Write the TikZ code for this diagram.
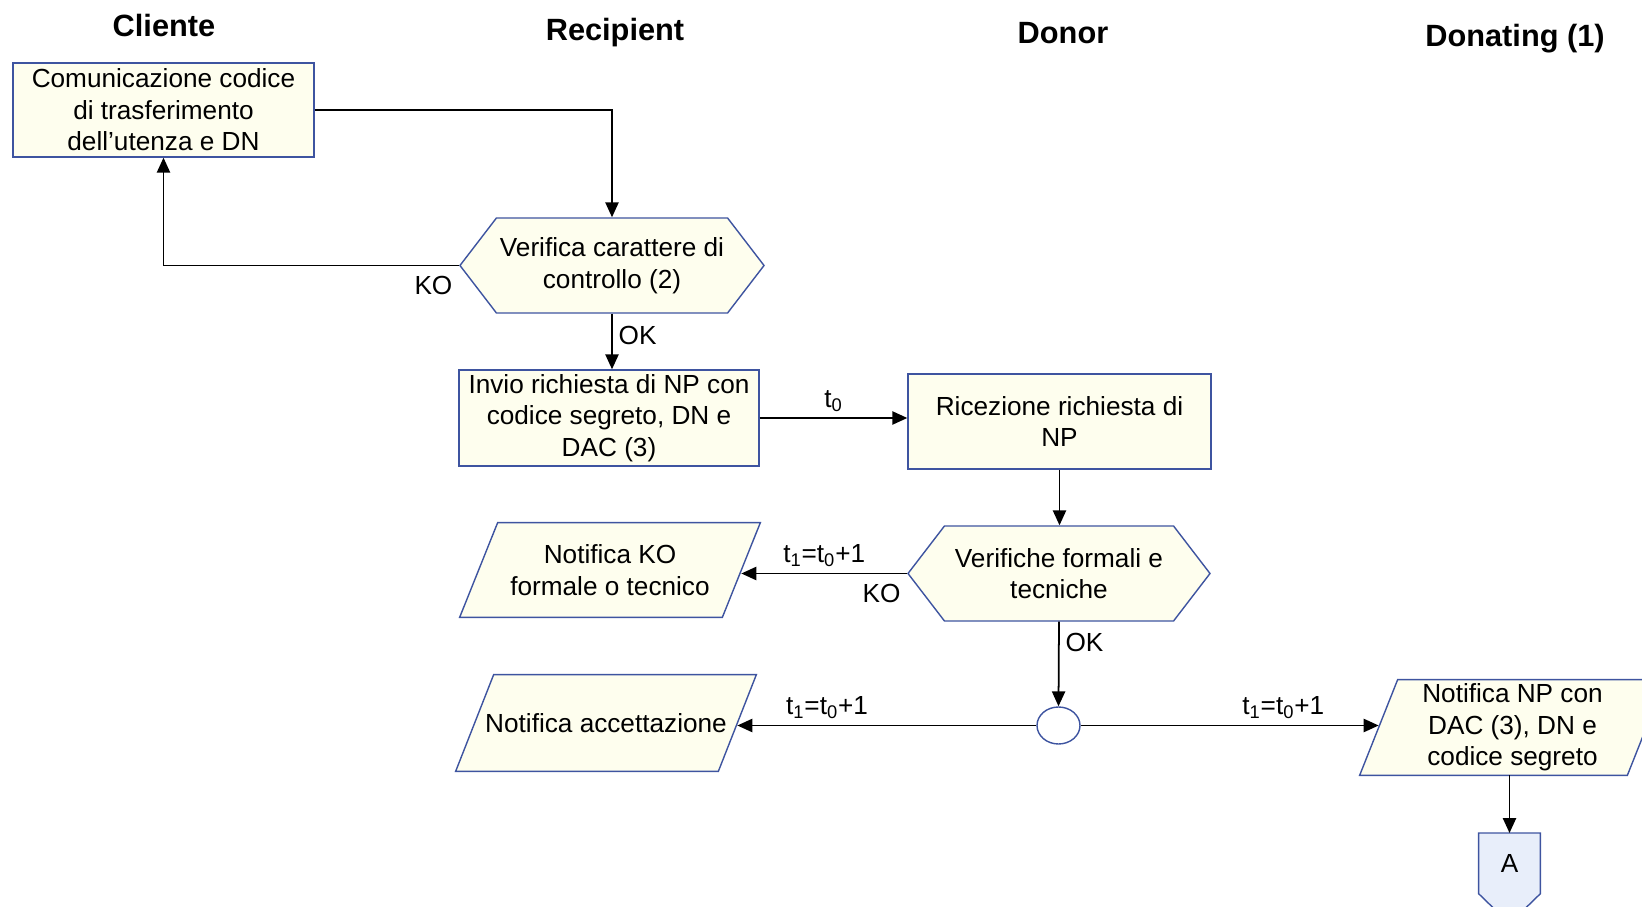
\documentclass[tikz,border=0pt]{standalone}
\usepackage{fontspec}
\setmainfont{Liberation Sans}
\usetikzlibrary{arrows.meta,positioning,backgrounds,shapes.geometric,shapes.symbols}
\definecolor{edgeblue}{RGB}{62,84,160}
\definecolor{boxfill}{RGB}{254,254,238}
\definecolor{pagefill}{RGB}{232,238,250}
\newcommand{\nf}{\fontsize{14.9pt}{18pt}\selectfont}
\newcommand{\hf}{\fontsize{17.5pt}{21pt}\selectfont\bfseries}
% parallelogramma dietro un nodo di testo
\newcommand{\ioshape}[1]{%
    \draw [frame] ([xshift=-3.8mm]#1.south west) -- ([xshift=-3.8mm]#1.south east)
        -- ([xshift=3.8mm]#1.north east) -- ([xshift=3.8mm]#1.north west) -- cycle;}

\begin{document}
\begin{tikzpicture}[>={Triangle[length=8.5pt,width=7.5pt]}]
    \tikzset{
        frame/.style={draw=edgeblue, fill=boxfill, line width=0.8pt},
        procbox/.style={frame, align=center, font=\nf, inner sep=2pt},
        decision/.style={procbox, signal, signal to=west and east, signal pointer angle=105},
        iobox/.style={align=center, font=\nf, inner sep=2pt},
        flow/.style={->, line width=1pt},
        lbl/.style={font=\nf}
    }
    \useasboundingbox (0,0) rectangle (32.84,18.12);

    % intestazioni
    \node [font=\hf, anchor=base] (hCli) at (3.28, 17.38) {Cliente};
    \node [font=\hf, anchor=base] (hRec) at (12.3, 17.3) {Recipient};
    \node [font=\hf, anchor=base] (hDon) at (21.26, 17.24) {Donor};
    \node [font=\hf, anchor=base] (hDng) at (30.3, 17.18) {Donating (1)};

    % cliente / recipient
    \node [procbox, minimum width=6.02cm, minimum height=1.88cm] (comunic) at (3.27, 15.92)
        {Comunicazione codice\\di trasferimento\\dell'utenza e DN};
    \node [decision, minimum width=6cm, minimum height=1.9cm] (verCar) at (12.24, 12.81)
        {Verifica carattere di\\controllo (2)};
    \node [procbox, minimum width=6cm, minimum height=1.92cm] (invio) at (12.18, 9.76)
        {Invio richiesta di NP con\\codice segreto, DN e\\DAC (3)};
    \node [iobox, minimum width=5.24cm, minimum height=1.88cm] (notKO) at (12.2, 6.72)
        {Notifica KO\\formale o tecnico};
    \node [iobox, minimum width=5.24cm, minimum height=1.92cm] (notAcc) at (12.12, 3.66)
        {Notifica accettazione};

    % donor
    \node [procbox, minimum width=6.06cm, minimum height=1.9cm] (ricez) at (21.19, 9.69)
        {Ricezione richiesta di\\NP};
    \node [decision, minimum width=6.04cm, minimum height=1.9cm] (verForm) at (21.18, 6.65)
        {Verifiche formali e\\tecniche};
    \node [draw=edgeblue, fill=white, line width=0.8pt, ellipse, minimum width=0.86cm, minimum height=0.74cm, inner sep=0pt] (joinOK) at (21.17, 3.61) {};

    % donating
    \node [iobox, minimum width=5.34cm, minimum height=1.9cm] (notNP) at (30.25, 3.57)
        {Notifica NP con\\DAC (3), DN e\\codice segreto};
    \node [iobox, minimum width=1.22cm, minimum height=1.2cm, anchor=north] (offA) at (30.19, 1.46) {A};

    \begin{scope}[on background layer]
        \ioshape{notKO}
        \ioshape{notAcc}
        \ioshape{notNP}
        \draw [frame, fill=pagefill] (offA.north west) -- (offA.north east) -- (offA.south east)
            -- ([yshift=-6mm]offA.south) -- (offA.south west) -- cycle;
    \end{scope}

    % frecce
    \draw [flow] (comunic.east) -| (verCar.north);
    \draw [flow] (verCar.west) node [lbl, below left=2pt and 0pt] {KO} -| (comunic.south);
    \draw [flow] (verCar.south) -- node [lbl, right, pos=0.4] {OK} (verCar.south |- invio.north);
    \draw [flow] (invio.east) -- node [lbl, above] {t\textsubscript{0}} (ricez.west |- invio.east);
    \draw [flow] (ricez.south) -- (ricez.south |- verForm.north);
    \draw [flow] (verForm.west) node [lbl, below left=2pt and 0pt] {KO}
        -- node [lbl, above] {t\textsubscript{1}=t\textsubscript{0}+1} (notKO.east |- verForm.west);
    \draw [flow] (verForm.south) -- node [lbl, right, pos=0.25] {OK} (joinOK.north);
    \draw [flow] (joinOK.west) -- node [lbl, above, pos=0.7] {t\textsubscript{1}=t\textsubscript{0}+1} (notAcc.east |- joinOK.west);
    \draw [flow] (joinOK.east) -- node [lbl, above, pos=0.68] {t\textsubscript{1}=t\textsubscript{0}+1} (notNP.west |- joinOK.east);
    \draw [flow] (offA.north |- notNP.south) -- (offA.north);
\end{tikzpicture}
\end{document}
